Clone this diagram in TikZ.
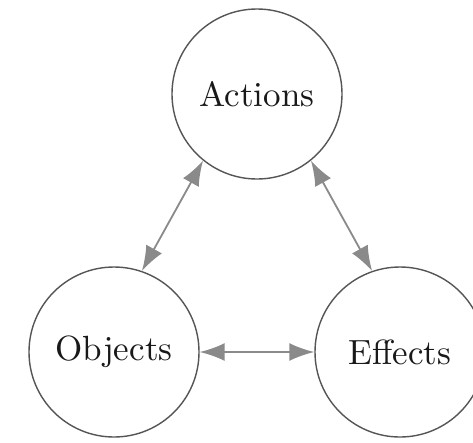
\documentclass[tikz,border=0pt]{standalone}
\usepackage{fontspec}
% the 10pt design, enlarged, for the heavier look of the labels
\setmainfont{lmroman10-regular}[Extension=.otf]
\usetikzlibrary{arrows.meta}

\definecolor{ringgray}{HTML}{555555}
\definecolor{linkgray}{HTML}{8A8A8A}

\tikzset{
  concept/.style={circle, draw=ringgray, line width=1.4pt, minimum size=170pt,
                  inner sep=0pt, text=black!90, font=\fontsize{35}{42}\selectfont},
  link/.style={draw=linkgray, line width=1.8pt,
               {Latex[length=25pt,width=18pt]}-{Latex[length=25pt,width=18pt]}}
}

\begin{document}
\begin{tikzpicture}[x=1pt,y=-1pt]
  \clip (0,0) rectangle (473,442);
  \fill[white] (0,0) rectangle (473,442);

  % the three concepts
  \node[concept] (act) at (257,94)  {Actions};
  \node[concept] (obj) at (114,352) {Objects};
  \node[concept] (eff) at (400,352) {Effects};

  % two-way links between them
  \draw[link] (act.231) -- (obj.71);
  \draw[link] (act.309) -- (eff.109);
  \draw[link] (obj.east) -- (eff.west);
\end{tikzpicture}
\end{document}
